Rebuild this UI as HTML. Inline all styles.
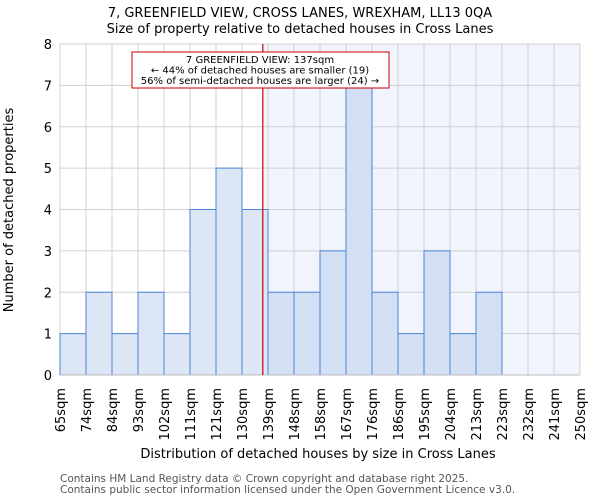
<!DOCTYPE html>
<html><head><meta charset="utf-8"><style>
body{margin:0;background:#fff}
svg{display:block;font-family:"DejaVu Sans","Liberation Sans",sans-serif}
</style></head><body>
<svg id="chart" width="600" height="500">
<text x="300" y="17" text-anchor="middle" font-size="13">7, GREENFIELD VIEW, CROSS LANES, WREXHAM, LL13 0QA</text>
<text x="300" y="33" text-anchor="middle" font-size="13">Size of property relative to detached houses in Cross Lanes</text>
<g id="plot"></g>
<text x="318" y="458" text-anchor="middle" font-size="13">Distribution of detached houses by size in Cross Lanes</text>
<text transform="translate(13,210) rotate(-90)" text-anchor="middle" font-size="13">Number of detached properties</text>
<text x="60" y="482" font-size="10.5" fill="#555">Contains HM Land Registry data © Crown copyright and database right 2025.</text>
<text x="60" y="493" font-size="10.5" fill="#555">Contains public sector information licensed under the Open Government Licence v3.0.</text>
</svg>
<script>
const binLabels=["65sqm","74sqm","84sqm","93sqm","102sqm","111sqm","121sqm","130sqm","139sqm","148sqm","158sqm","167sqm","176sqm","186sqm","195sqm","204sqm","213sqm","223sqm","232sqm","241sqm","250sqm"];
const counts=[1,2,1,2,1,4,5,4,2,2,3,7,2,1,3,1,2,0,0,0];
const yTicks=[0,1,2,3,4,5,6,7,8];
const markerIndex=7.8;
const NS="http://www.w3.org/2000/svg";
const L=60,R=580,T=44,B=375,yMax=8;
const bw=(R-L)/counts.length;
const xs=i=>L+i*bw;
const ys=v=>B-(B-T)*v/yMax;
const g=document.getElementById('plot');
function mk(t,a){const e=document.createElementNS(NS,t);for(const k in a)e.setAttribute(k,a[k]);g.appendChild(e);return e;}
let e;
const mx=xs(markerIndex);
e=mk('rect',{x:mx,y:T,width:R-mx,height:B-T,fill:'#f1f4fc'});


yTicks.forEach(v=>{
 e=mk('line',{x1:L,x2:R,y1:ys(v),y2:ys(v),stroke:'#d0d0d0'});
 
 
 e=mk('text',{x:L-8,y:ys(v)+5,'text-anchor':'end','font-size':13});
 e.textContent=v;
 
 
});
binLabels.forEach((s,i)=>{
 e=mk('line',{x1:xs(i),x2:xs(i),y1:T,y2:B,stroke:'#d0d0d0'});
 
 
 e=mk('text',{transform:`translate(${xs(i)+5},388) rotate(-90)`,'text-anchor':'end','font-size':13});
 e.textContent=s;
 
 
});
counts.forEach((c,i)=>{
 if(!c)return;
 e=mk('rect',{x:xs(i),y:ys(c),width:bw,height:B-ys(c),fill:i>=markerIndex?'#d3e0f3':'#dce6f4',stroke:'#4a86d8','stroke-width':1});
 
 
});
e=mk('line',{x1:L,x2:R,y1:B,y2:B,stroke:'#bbb'});


e=mk('line',{x1:mx,x2:mx,y1:T,y2:B,stroke:'#cc0000','stroke-width':1.2});


e=mk('rect',{x:132,y:52,width:257,height:36,fill:'#fff',stroke:'#cc0000'});


["7 GREENFIELD VIEW: 137sqm","← 44% of detached houses are smaller (19)","56% of semi-detached houses are larger (24) →"].forEach((s,i)=>{
 e=mk('text',{x:260,y:63+i*10.5,'text-anchor':'middle','font-size':10});
 e.textContent=s;
 
 
});
</script>
</body></html>
